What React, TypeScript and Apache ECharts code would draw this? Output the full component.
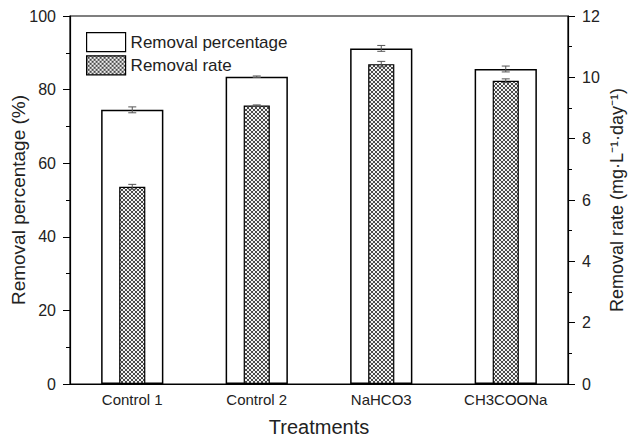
import React, { useEffect, useRef } from "react";
import * as echarts from "echarts";

const categories = ["Control 1", "Control 2", "NaHCO3", "CH3COONa"];
const removalPercentage = [74.5, 83.5, 91.2, 85.6];
const removalPercentageErr = [0.8, 0.2, 0.8, 0.8];
const removalRate = [6.43, 9.08, 10.43, 9.89];
const removalRateErr = [0.08, 0.02, 0.09, 0.06];
const leftTicks = { min: 0, max: 100, interval: 20 };
const rightTicks = { min: 0, max: 12, interval: 2 };

const FONT = "'Liberation Sans', Arial, sans-serif";

function makePattern() {
  const c = document.createElement("canvas");
  c.width = 4;
  c.height = 4;
  const ctx = c.getContext("2d")!;
  ctx.fillStyle = "#f2f2f2";
  ctx.fillRect(0, 0, 4, 4);
  ctx.strokeStyle = "#4a4a4a";
  ctx.lineWidth = 1;
  ctx.beginPath();
  ctx.moveTo(0, 0);
  ctx.lineTo(4, 4);
  ctx.moveTo(4, 0);
  ctx.lineTo(0, 4);
  ctx.stroke();
  return c;
}

function errRender(values: number[], errs: number[]) {
  return (params: any, api: any) => {
    const i = params.dataIndex;
    const x = api.value(0);
    const v = values[i];
    const e = errs[i];
    const top = api.coord([x, v + e]);
    const bot = api.coord([x, v - e]);
    const half = 4;
    const style = { stroke: "#555", lineWidth: 1 };
    return {
      type: "group",
      children: [
        { type: "line", shape: { x1: top[0], y1: top[1], x2: bot[0], y2: bot[1] }, style },
        { type: "line", shape: { x1: top[0] - half, y1: top[1], x2: top[0] + half, y2: top[1] }, style },
        { type: "line", shape: { x1: bot[0] - half, y1: bot[1], x2: bot[0] + half, y2: bot[1] }, style },
      ],
    };
  };
}

export default function App() {
  const ref = useRef<HTMLDivElement>(null);
  useEffect(() => {
    if (!ref.current) return;
    const chart = echarts.init(ref.current, undefined, { renderer: "svg" });
    const pattern = makePattern();
    const hatch: any = { image: pattern, repeat: "repeat" };
    const axisLabel = { color: "#222", fontSize: 16, fontFamily: FONT, margin: 14 };
    const axisLine = { show: true, lineStyle: { color: "#000", width: 1.2 } };
    const tick = { show: true, inside: false, length: 7, lineStyle: { color: "#000", width: 1 } };
    const minor = { show: true, splitNumber: 2, length: 4, lineStyle: { color: "#000", width: 1 } };
    chart.setOption({
      animation: false,
      backgroundColor: "#fff",
      textStyle: { fontFamily: FONT },
      grid: {
        left: 70,
        right: 61,
        top: 16,
        bottom: 55,
        containLabel: false,
        outerBoundsMode: "none",
        show: true,
        borderColor: "#000",
        borderWidth: 1.2,
        backgroundColor: "transparent",
      },
      legend: {
        left: 81,
        top: 27,
        orient: "vertical",
        itemWidth: 39,
        itemHeight: 19,
        itemGap: 3,
        textStyle: { fontSize: 17, color: "#222", fontFamily: FONT },
        data: [
          { name: "Removal percentage", icon: "rect", itemStyle: { color: "#fff", borderColor: "#000", borderWidth: 1.2 } },
          { name: "Removal rate", icon: "rect", itemStyle: { color: hatch, borderColor: "#000", borderWidth: 1.2 } },
        ],
      },
      xAxis: [
        {
          type: "category",
          data: categories,
          axisLine,
          axisTick: { show: false },
          axisLabel: { ...axisLabel, fontSize: 15, margin: 8 },
          name: "Treatments",
          nameLocation: "middle",
          nameGap: 33,
          nameMoveOverlap: false,
          nameTextStyle: { fontSize: 20, color: "#222", fontFamily: FONT },
        },
        {
          type: "category",
          data: categories,
          show: false,
        },
      ],
      yAxis: [
        {
          type: "value",
          min: leftTicks.min,
          max: leftTicks.max,
          interval: leftTicks.interval,
          axisLine,
          axisTick: tick,
          minorTick: minor,
          splitLine: { show: false },
          minorSplitLine: { show: false },
          axisLabel,
          name: "Removal percentage (%)",
          nameLocation: "middle",
          nameGap: 42,
          nameMoveOverlap: false,
          nameTextStyle: { fontSize: 19, color: "#222", fontFamily: FONT },
        },
        {
          type: "value",
          position: "right",
          min: rightTicks.min,
          max: rightTicks.max,
          interval: rightTicks.interval,
          axisLine,
          axisTick: tick,
          minorTick: minor,
          splitLine: { show: false },
          minorSplitLine: { show: false },
          axisLabel,
          name: "Removal rate (mg·L⁻¹·day⁻¹)",
          nameLocation: "middle",
          nameGap: 40,
          nameMoveOverlap: false,
          nameRotate: 90,
          nameTextStyle: { fontSize: 18, color: "#222", fontFamily: FONT },
        },
      ],
      series: [
        {
          name: "Removal percentage",
          type: "bar",
          xAxisIndex: 0,
          yAxisIndex: 0,
          barWidth: "50%",
          data: removalPercentage,
          itemStyle: { color: "#fff", borderColor: "#000", borderWidth: 1.5 },
        },
        {
          name: "Removal rate",
          type: "bar",
          xAxisIndex: 1,
          yAxisIndex: 1,
          barWidth: "21%",
          data: removalRate,
          itemStyle: { color: hatch, borderColor: "#000", borderWidth: 1.2 },
          z: 3,
        },
        {
          type: "custom",
          xAxisIndex: 0,
          yAxisIndex: 0,
          data: categories.map((_, i) => [i, removalPercentage[i]]),
          renderItem: errRender(removalPercentage, removalPercentageErr),
          z: 4,
          silent: true,
        },
        {
          type: "custom",
          xAxisIndex: 1,
          yAxisIndex: 1,
          data: categories.map((_, i) => [i, removalRate[i]]),
          renderItem: errRender(removalRate, removalRateErr),
          z: 5,
          silent: true,
        },
      ],
    });
    return () => chart.dispose();
  }, []);
  return (
    <div
      ref={ref}
      style={{ position: "absolute", left: 0, top: 0, width: 629, height: 439 }}
    />
  );
}
